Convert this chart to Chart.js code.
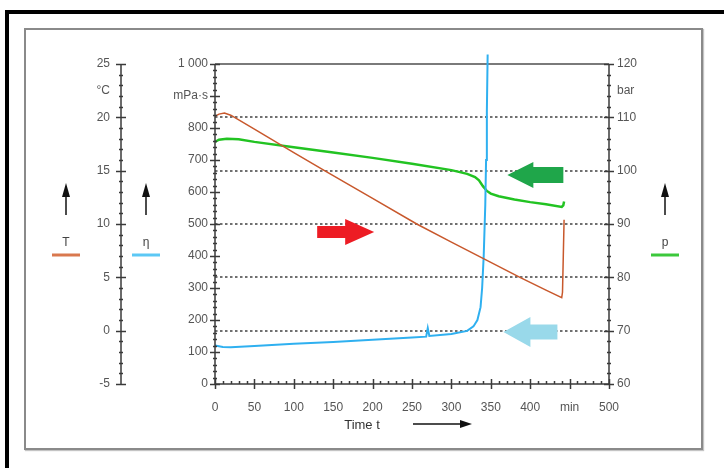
<!DOCTYPE html>
<html>
<head>
<meta charset="utf-8">
<script src="https://cdn.jsdelivr.net/npm/chart.js@4.4.1/dist/chart.umd.min.js"></script>
<style>
  html, body { margin: 0; padding: 0; background: #fff; }
  body { width: 724px; height: 468px; position: relative; overflow: hidden; }
  .outer { position: absolute; left: 5px; top: 10px; width: 760px; height: 500px; border-left: 4px solid #000; border-top: 4px solid #000; }
  .inner { position: absolute; left: 24px; top: 28px; width: 675px; height: 418px; border: 2px solid #8a8a8a; box-shadow: 1px 1px 1px #c4c4c4; }
  canvas { position: absolute; left: 0; top: 0; }
</style>
</head>
<body>
<div class="outer"></div>
<div class="inner"></div>
<canvas id="myChart" width="724" height="468"></canvas>
<script>
// time axis (min)
const timeTicks = [0, 50, 100, 150, 200, 250, 300, 350, 400, 450, 500]

// temperature T (°C)
const tempTime = [0, 5, 12, 20, 50, 100, 139, 200, 256, 300, 350, 387, 420, 440, 441, 442, 443]
const tempValues = [20.1, 20.3, 20.4, 20.2, 18.9, 16.7, 15.0, 12.4, 10.0, 8.3, 6.4, 5.0, 3.8, 3.1, 3.6, 7.0, 10.4]
const tempTicks = [-5, 0, 5, 10, 15, 20, 22.5, 25]

// viscosity η (mPa·s)
const viscTime = [0, 10, 20, 50, 100, 150, 200, 250, 268, 270, 272, 300, 320, 328, 333, 337, 339, 341, 343, 344, 345, 346]
const viscValues = [120, 116, 115, 119, 126, 131, 138, 145, 148, 175, 150, 156, 166, 180, 200, 240, 300, 400, 560, 700, 850, 1030]

// pressure p (bar)
const presTime = [0, 5, 15, 30, 50, 100, 150, 200, 250, 300, 320, 330, 335, 340, 345, 350, 360, 380, 400, 420, 440, 442, 443]
const presValues = [105.4, 105.8, 106.0, 105.9, 105.4, 104.4, 103.4, 102.4, 101.3, 100.1, 99.4, 98.8, 98.2, 97.1, 96.2, 95.7, 95.2, 94.6, 94.1, 93.7, 93.2, 93.5, 94.2]
const presTicks = [60, 70, 80, 90, 100, 110, 115, 120]
const presGrid = [70, 80, 90, 100, 110]

const toPoints = (xs, ys) => xs.map((x, i) => ({x: x, y: ys[i]}))

const tickFont = {family: 'Liberation Sans, Arial, sans-serif', size: 12}
const tickColor = '#555'
const axisColor = '#3a3a3a'

// block arrows anchored on time / pressure values
const blockArrows = [
  {t: 371, p: 99.2, dir: -1, head: 26, shaft: 30, headH: 26, shaftH: 16, color: '#1fa64a'},
  {t: 202, p: 88.5, dir: 1, head: 29, shaft: 28, headH: 26, shaftH: 12, color: '#ed1c24'},
  {t: 366, p: 69.75, dir: -1, head: 27, shaft: 27, headH: 30, shaftH: 15, color: '#99d9ea'}
]

const legendMarks = [
  {label: 'T', color: '#d9784e', x: 66},
  {label: 'η', color: '#5cc8f5', x: 146},
  {label: 'p', color: '#3cc83c', x: 665}
]

function line(ctx, x1, y1, x2, y2) {
  ctx.beginPath(); ctx.moveTo(x1, y1); ctx.lineTo(x2, y2); ctx.stroke()
}

function drawVAxis(ctx, scale, x, min, max, major, minor) {
  line(ctx, x, scale.getPixelForValue(min), x, scale.getPixelForValue(max))
  for (let v = min; v <= max + 1e-9; v += minor) {
    const y = Math.round(scale.getPixelForValue(v)) + 0.5
    const isMajor = Math.abs(v / major - Math.round(v / major)) < 1e-6
    const len = isMajor ? 5 : 2
    line(ctx, x - len, y, x + len, y)
  }
}

function drawHAxis(ctx, scale, y, min, max, major, minor) {
  line(ctx, scale.getPixelForValue(min), y, scale.getPixelForValue(max), y)
  for (let v = min; v <= max + 1e-9; v += minor) {
    const x = Math.round(scale.getPixelForValue(v)) + 0.5
    const isMajor = Math.abs(v / major - Math.round(v / major)) < 1e-6
    if (isMajor) line(ctx, x, y - 5, x, y + 5)
    else line(ctx, x, y - 3, x, y)
  }
}

const decorations = {
  id: 'decorations',
  beforeDatasetsDraw(chart) {
    const {ctx, chartArea: a, scales} = chart
    ctx.save()
    ctx.strokeStyle = '#7a7a7a'
    ctx.lineWidth = 2
    line(ctx, a.left, a.top, a.right, a.top)

    ctx.setLineDash([2.5, 2.5])
    ctx.strokeStyle = '#707070'
    presGrid.forEach(v => {
      const y = Math.round(scales.yP.getPixelForValue(v))
      line(ctx, a.left, y, a.right, y)
    })
    ctx.setLineDash([])

    blockArrows.forEach(b => {
      const tx = scales.x.getPixelForValue(b.t)
      const ty = scales.yP.getPixelForValue(b.p)
      const bx = tx - b.dir * b.head
      const ex = bx - b.dir * b.shaft
      ctx.fillStyle = b.color
      ctx.beginPath()
      ctx.moveTo(tx, ty)
      ctx.lineTo(bx, ty - b.headH / 2)
      ctx.lineTo(bx, ty - b.shaftH / 2)
      ctx.lineTo(ex, ty - b.shaftH / 2)
      ctx.lineTo(ex, ty + b.shaftH / 2)
      ctx.lineTo(bx, ty + b.shaftH / 2)
      ctx.lineTo(bx, ty + b.headH / 2)
      ctx.closePath()
      ctx.fill()
    })
    ctx.restore()
  },
  afterDraw(chart) {
    const {ctx, scales} = chart
    ctx.save()
    ctx.strokeStyle = axisColor
    ctx.lineWidth = 1.5
    drawVAxis(ctx, scales.yT, scales.yT.right, -5, 25, 5, 1)
    drawVAxis(ctx, scales.y, scales.y.right, 0, 1000, 100, 20)
    drawVAxis(ctx, scales.yP, scales.yP.left, 60, 120, 10, 2)
    drawHAxis(ctx, scales.x, scales.x.top, 0, 500, 50, 10)

    // legend marks with up arrows
    legendMarks.forEach(m => {
      ctx.strokeStyle = '#111'
      ctx.fillStyle = '#111'
      ctx.lineWidth = 1.5
      line(ctx, m.x, 215, m.x, 194)
      ctx.beginPath()
      ctx.moveTo(m.x - 4, 197); ctx.lineTo(m.x, 183); ctx.lineTo(m.x + 4, 197)
      ctx.closePath(); ctx.fill()
      ctx.font = '12px Liberation Sans, Arial, sans-serif'
      ctx.textAlign = 'center'
      ctx.textBaseline = 'middle'
      ctx.fillStyle = '#444'
      ctx.fillText(m.label, m.x, 243)
      ctx.strokeStyle = m.color
      ctx.lineWidth = 3
      line(ctx, m.x - 14, 255, m.x + 14, 255)
    })

    // time axis title with arrow
    ctx.font = '13px Liberation Sans, Arial, sans-serif'
    ctx.fillStyle = '#333'
    ctx.textAlign = 'center'
    ctx.textBaseline = 'middle'
    ctx.fillText('Time t', 362, 425)
    ctx.strokeStyle = '#111'
    ctx.fillStyle = '#111'
    ctx.lineWidth = 1.5
    line(ctx, 413, 424, 462, 424)
    ctx.beginPath()
    ctx.moveTo(460, 420); ctx.lineTo(472, 424); ctx.lineTo(460, 428)
    ctx.closePath(); ctx.fill()
    ctx.restore()
  }
}

new Chart(document.getElementById('myChart'), {
  type: 'line',
  data: {
    datasets: [
      {
        label: 'T',
        data: toPoints(tempTime, tempValues),
        yAxisID: 'yT',
        borderColor: '#c8582c',
        borderWidth: 1.5,
        pointRadius: 0,
        tension: 0
      },
      {
        label: 'η',
        data: toPoints(viscTime, viscValues),
        yAxisID: 'y',
        borderColor: '#2fb0f0',
        borderWidth: 2,
        pointRadius: 0,
        tension: 0,
        clip: false
      },
      {
        label: 'p',
        data: toPoints(presTime, presValues),
        yAxisID: 'yP',
        borderColor: '#22c322',
        borderWidth: 2.5,
        pointRadius: 0,
        tension: 0
      }
    ]
  },
  options: {
    responsive: false,
    animation: false,
    devicePixelRatio: 1,
    layout: {padding: {left: 0, right: 0, top: 64, bottom: 0}},
    plugins: {
      legend: {display: false},
      tooltip: {enabled: false}
    },
    scales: {
      x: {
        type: 'linear',
        min: 0,
        max: 500,
        grid: {display: false, drawTicks: false},
        border: {display: false},
        afterBuildTicks: s => { s.ticks = timeTicks.map(v => ({value: v})) },
        afterFit: s => { s.height = 84 },
        ticks: {
          font: tickFont, color: tickColor, padding: 16, maxRotation: 0, autoSkip: false,
          callback: v => v === 450 ? 'min' : v
        }
      },
      y: {
        position: 'left',
        weight: 0,
        min: 0,
        max: 1000,
        grid: {display: false, drawTicks: false},
        border: {display: false},
        afterFit: s => { s.width = 94 },
        ticks: {
          stepSize: 100, font: tickFont, color: tickColor, padding: 7, autoSkip: false,
          callback: v => v === 900 ? 'mPa·s' : (v === 1000 ? '1 000' : v)
        }
      },
      yT: {
        position: 'left',
        weight: 1,
        min: -5,
        max: 25,
        grid: {display: false, drawTicks: false},
        border: {display: false},
        afterBuildTicks: s => { s.ticks = tempTicks.map(v => ({value: v})) },
        afterFit: s => { s.width = 121 },
        ticks: {
          font: tickFont, color: tickColor, padding: 11, autoSkip: false,
          callback: v => v === 22.5 ? '°C' : v
        }
      },
      yP: {
        position: 'right',
        min: 60,
        max: 120,
        grid: {display: false, drawTicks: false},
        border: {display: false},
        afterBuildTicks: s => { s.ticks = presTicks.map(v => ({value: v})) },
        afterFit: s => { s.width = 115 },
        ticks: {
          font: tickFont, color: tickColor, padding: 8, autoSkip: false,
          callback: v => v === 115 ? 'bar' : v
        }
      }
    }
  },
  plugins: [decorations]
})
</script>
</body>
</html>
